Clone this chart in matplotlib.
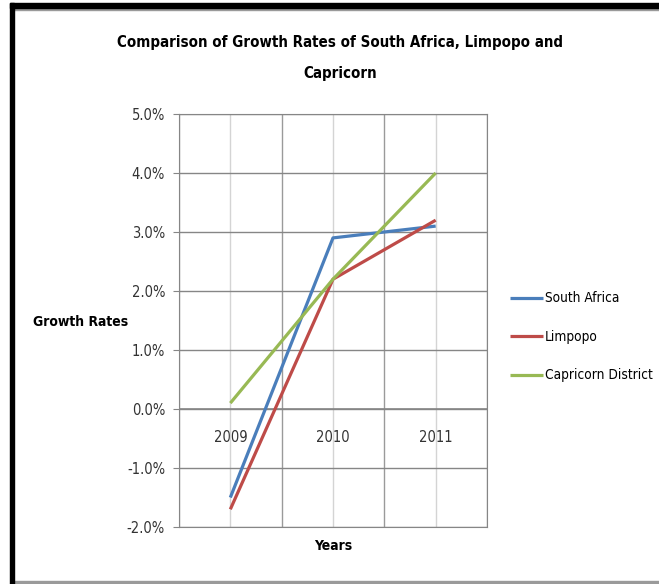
import matplotlib
matplotlib.use("Agg")
import matplotlib.pyplot as plt
from matplotlib.patches import Rectangle
from matplotlib.ticker import FuncFormatter

years = ["2009", "2010", "2011"]
south_africa = [-1.5, 2.9, 3.1]
limpopo = [-1.7, 2.2, 3.2]
capricorn = [0.1, 2.2, 4.0]
series_names = ["South Africa", "Limpopo", "Capricorn District"]
series_colors = ["#4A7EBB", "#BE4B48", "#98B954"]

plt.rcParams["font.family"] = ["DejaVu Sans"]
plt.rcParams["font.stretch"] = "condensed"

fig = plt.figure(figsize=(6.59, 5.84), dpi=100)
W, H = 659, 584

# page frame: heavy black edge top/left, thin grey edge inside
fig.patches.append(Rectangle((10 / W, 0), 4 / W, 1 - 3 / H, transform=fig.transFigure,
                             color="black", zorder=5))
fig.patches.append(Rectangle((10 / W, 1 - 8 / H), 1, 5 / H, transform=fig.transFigure,
                             color="black", zorder=5))
fig.patches.append(Rectangle((14 / W, 1 - 10 / H), 1, 2 / H, transform=fig.transFigure,
                             color="#9a9a9a", zorder=4))
fig.patches.append(Rectangle((14 / W, 1 - 583 / H), 1, 2 / H, transform=fig.transFigure,
                             color="#9a9a9a", zorder=4))

ax = fig.add_axes([179 / W, 1 - 527 / H, 308 / W, 413 / H])
x = list(range(len(years)))
for vals, name, col in zip([south_africa, limpopo, capricorn], series_names, series_colors):
    ax.plot(x, vals, color=col, lw=2.3, label=name, solid_capstyle="butt", zorder=3)

ax.set_xlim(-0.5, len(years) - 0.5)
ax.set_ylim(-2, 5)
ax.set_yticks(range(-2, 6))
ax.yaxis.set_major_formatter(FuncFormatter(lambda v, p: f"{v:.1f}%"))
ax.tick_params(axis="y", length=4, color="#868686", labelsize=10.5, colors="#333333", pad=6)

ax.set_xticks([i - 0.5 for i in range(len(years) + 1)])
ax.set_xticks(x, minor=True)
ax.tick_params(axis="x", which="both", length=0, labelbottom=False)
ax.grid(axis="y", color="#868686", lw=1)
ax.grid(axis="x", which="major", color="#9a9a9a", lw=1)
ax.grid(axis="x", which="minor", color="#d4d4d4", lw=1)
ax.axhline(0, color="#868686", lw=1.2, zorder=2)
for s in ax.spines.values():
    s.set_color("#868686")

# category labels sit on the zero line
sec = ax.secondary_xaxis(2 / 7)
sec.set_xticks(x)
sec.set_xticklabels(years)
sec.tick_params(length=0, labelsize=10.5, colors="#333333", pad=15)
sec.spines["bottom"].set_visible(False)

ax.set_xlabel("Years", fontsize=10, fontweight="bold", labelpad=9)
ax.set_ylabel("Growth Rates", fontsize=10, fontweight="bold", rotation=0,
              ha="center", va="center")
ax.yaxis.set_label_coords(-0.321, 0.496)

fig.text(340 / W, 1 - 58 / H,
         "Comparison of Growth Rates of South Africa, Limpopo and\nCapricorn",
         ha="center", va="center", fontsize=10.8, fontweight="bold", linespacing=2.3)

ax.legend(loc="center left", bbox_to_anchor=(498 / W, 1 - 337 / H),
          bbox_transform=fig.transFigure, frameon=False, fontsize=9.8,
          handlelength=2.4, handletextpad=0.15, labelspacing=1.8)

fig.savefig("out.png", dpi=100)
